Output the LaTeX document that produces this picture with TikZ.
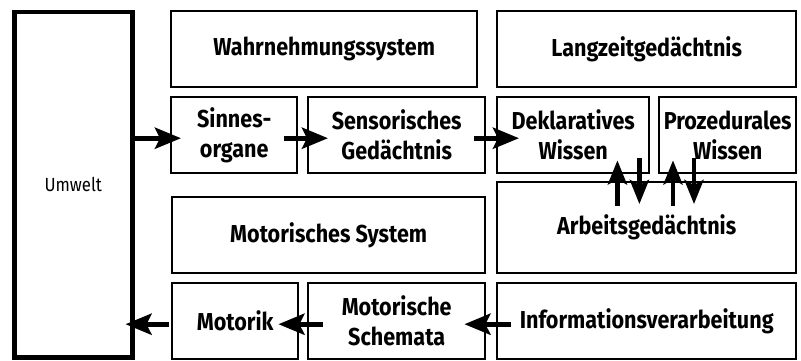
\documentclass[tikz,border=0pt]{standalone}
\usepackage{fontspec}
\setmainfont{Fira Sans}[FakeStretch=0.88]
\usetikzlibrary{arrows.meta,positioning}

\begin{document}
\begin{tikzpicture}[
  x=1pt, y=-1pt,
  font=\fontsize{24.5}{30}\selectfont\bfseries,
  box/.style={draw, line width=2.4pt, align=center, anchor=north west, inner sep=0pt,
              minimum height=76pt},
  world/.style={box, line width=4.5pt, font=\fontsize{19}{21}\selectfont},
  flow/.style={-{Stealth[length=26pt, width=21pt, inset=5pt]}, line width=5pt},
  vflow/.style={-{Stealth[length=24pt, width=19pt, inset=5pt]}, line width=4.5pt}
]
\useasboundingbox (0,0) rectangle (801,361);

% umwelt
\node[world, minimum width=118pt, minimum height=345pt] (umwelt) at (12,10) {Umwelt};

% wahrnehmung
\node[box, minimum width=306pt] (wahr) at (170,10) {Wahrnehmungssystem};
\node[box, minimum width=126pt] (sinnes) at (170,96) {Sinnes-\\organe};
\node[box, minimum width=177pt] (sens) at (307,96) {Sensorisches\\Gedächtnis};

% gedaechtnis
\node[box, minimum width=299pt] (lang) at (496,10) {Langzeitgedächtnis};
\node[box, minimum width=152pt] (dekl) at (496,96) {Deklaratives\\Wissen};
\node[box, minimum width=137pt] (proz) at (658,96) {Prozedurales\\Wissen};
\node[box, minimum width=299pt, minimum height=91pt] (arbeit) at (496,181) {Arbeitsgedächtnis};

% motorik
\node[box, minimum width=313pt] (motsys) at (171,196) {Motorisches System};
\node[box, minimum width=126pt] (motorik) at (171,282) {Motorik};
\node[box, minimum width=177pt] (schema) at (307,282) {Motorische\\Schemata};
\node[box, minimum width=299pt] (info) at (496,282) {Informationsverarbeitung};

% horizontal flow
\draw[flow, shorten <=-2pt, shorten >=-11pt] ([yshift=-3pt]umwelt.east |- sinnes.east) -- ([yshift=-3pt]sinnes.west);
\draw[flow, shorten <=-14pt, shorten >=-21pt] ([yshift=-3pt]sinnes.east) -- ([yshift=-3pt]sens.west);
\draw[flow, shorten <=-12pt, shorten >=-23pt] ([yshift=-3pt]sens.east) -- ([yshift=-3pt]dekl.west);

\draw[flow, shorten <=-15pt, shorten >=-22pt] ([yshift=-3pt]info.west) -- ([yshift=-3pt]schema.east);
\draw[flow, shorten <=-16pt, shorten >=-21pt] ([yshift=-3pt]schema.west) -- ([yshift=-3pt]motorik.east);
\draw[flow, shorten <=2pt, shorten >=-9pt] ([yshift=-3pt]motorik.west) -- ([yshift=-3pt]umwelt.east |- motorik.west);

% arbeitsgedaechtnis <-> wissen
\coordinate (up1) at ([xshift=-33pt]dekl.south east);
\coordinate (dn1) at ([xshift=-11pt]dekl.south east);
\coordinate (up2) at ([xshift=15pt]proz.south west);
\coordinate (dn2) at ([xshift=36pt]proz.south west);
\draw[vflow, shorten <=-25pt, shorten >=-14pt] (arbeit.north -| up1) -- (up1);
\draw[vflow, shorten <=-16pt, shorten >=-23pt] (dn1) -- (arbeit.north -| dn1);
\draw[vflow, shorten <=-25pt, shorten >=-14pt] (arbeit.north -| up2) -- (up2);
\draw[vflow, shorten <=-16pt, shorten >=-23pt] (dn2) -- (arbeit.north -| dn2);

\end{tikzpicture}
\end{document}
